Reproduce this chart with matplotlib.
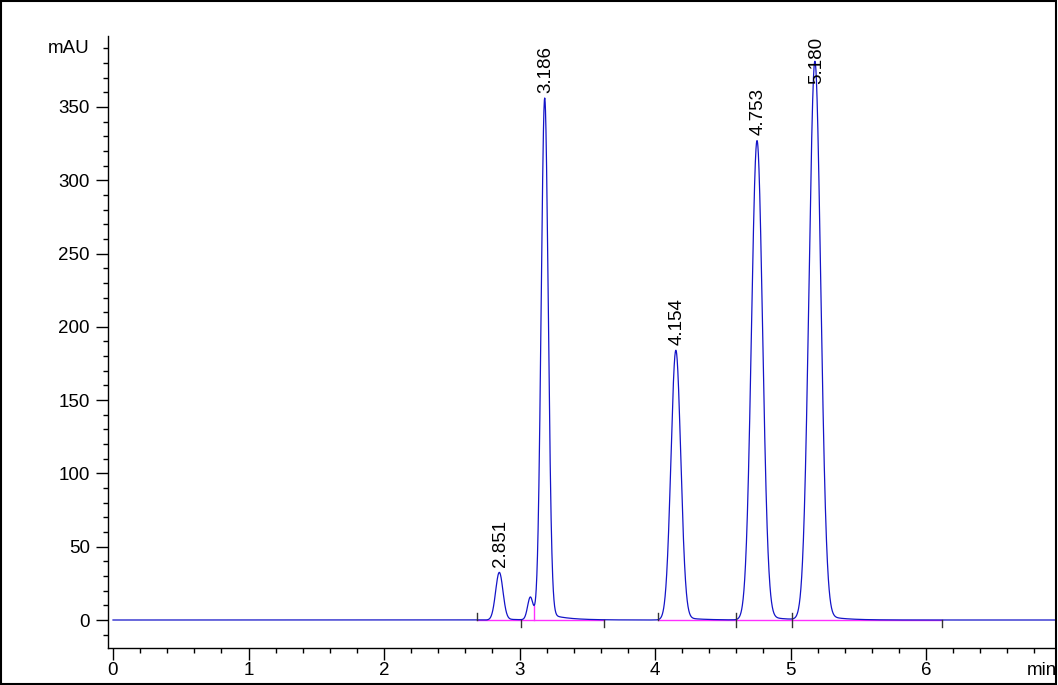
import numpy as np
import matplotlib.pyplot as plt
from matplotlib.patches import Rectangle
from matplotlib.ticker import MultipleLocator

plt.rcParams['font.family'] = ['Liberation Sans', 'DejaVu Sans']

# peak table (min, mAU)
peak_labels = ["2.851", "3.186", "4.154", "4.753", "5.180"]
peak_times = [2.851, 3.186, 4.154, 4.753, 5.180]
peak_heights = [32.5, 356, 184, 327, 381]
peak_sigmas = [0.027, 0.026, 0.036, 0.041, 0.043]
tail_heights = [0.8, 5.0, 2.5, 4.0, 5.0]
tail_tau = 0.13

# small unlabelled peak just before 3.186
shoulder_time = 3.08
shoulder_height = 15.5
shoulder_sigma = 0.02

# integration baselines and baseline event marks
base_segments = [(2.69, 3.01), (3.01, 3.62), (4.02, 4.60), (4.60, 5.01), (5.01, 6.12)]
event_times = [2.69, 3.01, 3.62, 4.02, 4.60, 5.01, 6.12]
event_kinds = ["up", "down", "down", "up", "both", "both", "down"]

blue = "#1414c8"
magenta = "#ff30ff"
fs = 13.5

# build the detector trace from the peak table
t = np.linspace(0, 6.95, 6000)
signal = np.zeros_like(t)
for tr, h, s, th in zip(peak_times, peak_heights, peak_sigmas, tail_heights):
    signal += h * np.exp(-0.5 * ((t - tr) / s) ** 2)
    onset = 1 / (1 + np.exp(-(t - tr - 2 * s) / (0.4 * s)))
    decay = np.exp(-np.clip(t - tr, 0, None) / tail_tau)
    signal += th * decay * onset
signal += shoulder_height * np.exp(-0.5 * ((t - shoulder_time) / shoulder_sigma) ** 2)

fig = plt.figure(figsize=(10.58, 6.85), dpi=100)
ax = fig.add_axes([108 / 1058, 37 / 685, (1055 - 108) / 1058, (648 - 36) / 685])

ax.plot(t, signal, color=blue, lw=0.9, zorder=3)

# baselines
for a, b in base_segments:
    ax.plot([a, b], [0, 0], color=magenta, lw=1.0, zorder=2)
# drop line at the valley between the small peak and 3.186
win = (t > shoulder_time) & (t < peak_times[1])
i_v = np.argmin(np.where(win, signal, np.inf))
ax.plot([t[i_v], t[i_v]], [0, signal[i_v]], color=magenta, lw=1.0, zorder=2)
for et, kind in zip(event_times, event_kinds):
    lo = -5 if kind in ("down", "both") else 0
    hi = 5 if kind in ("up", "both") else 0
    ax.plot([et, et], [lo, hi], color="#333333", lw=1.0, zorder=4)

ax.set_xlim((108 - 113) / 135.5, (1055 - 113) / 135.5)
ax.set_ylim(-19.1, 398.4)

for side in ("top", "right"):
    ax.spines[side].set_visible(False)
for side in ("left", "bottom"):
    ax.spines[side].set_linewidth(1.0)

ax.xaxis.set_major_locator(MultipleLocator(1))
ax.xaxis.set_minor_locator(MultipleLocator(0.2))
ax.yaxis.set_major_locator(MultipleLocator(50))
ax.yaxis.set_minor_locator(MultipleLocator(10))
ax.tick_params(which="major", length=8.5, width=1.0, labelsize=fs)
ax.tick_params(which="minor", length=3.6, width=1.0)
ax.tick_params(axis="x", which="major", pad=1.5)
ax.tick_params(axis="y", which="major", pad=4.5)

ax.annotate("mAU", xy=(0, 390), xycoords=("axes fraction", "data"),
            xytext=(-13, 0), textcoords="offset points",
            ha="right", va="center", fontsize=fs)
ax.annotate("min", xy=(1, 0), xycoords="axes fraction",
            xytext=(1.5, -10), textcoords="offset points",
            ha="right", va="top", fontsize=fs)

# peak labels, pushed down when they would leave the plot
labels = []
for lab, tr, h in zip(peak_labels, peak_times, peak_heights):
    txt = ax.annotate(lab, xy=(tr, h), xytext=(1, 4), textcoords="offset points",
                      rotation=90, ha="center", va="bottom", fontsize=fs, zorder=5)
    labels.append(txt)

fig.canvas.draw()
renderer = fig.canvas.get_renderer()
ax_top = ax.get_window_extent(renderer).y1
for txt in labels:
    bb = txt.get_window_extent(renderer)
    if bb.y1 > ax_top:
        shift = (bb.y1 - ax_top + 1) * 72 / fig.dpi
        txt.xyann = (txt.xyann[0], txt.xyann[1] - shift)

fig.patches.append(Rectangle((0.001, 0.002), 0.997, 0.996, transform=fig.transFigure,
                             fill=False, edgecolor="black", lw=1.5))

fig.savefig("out.png", dpi=100)
